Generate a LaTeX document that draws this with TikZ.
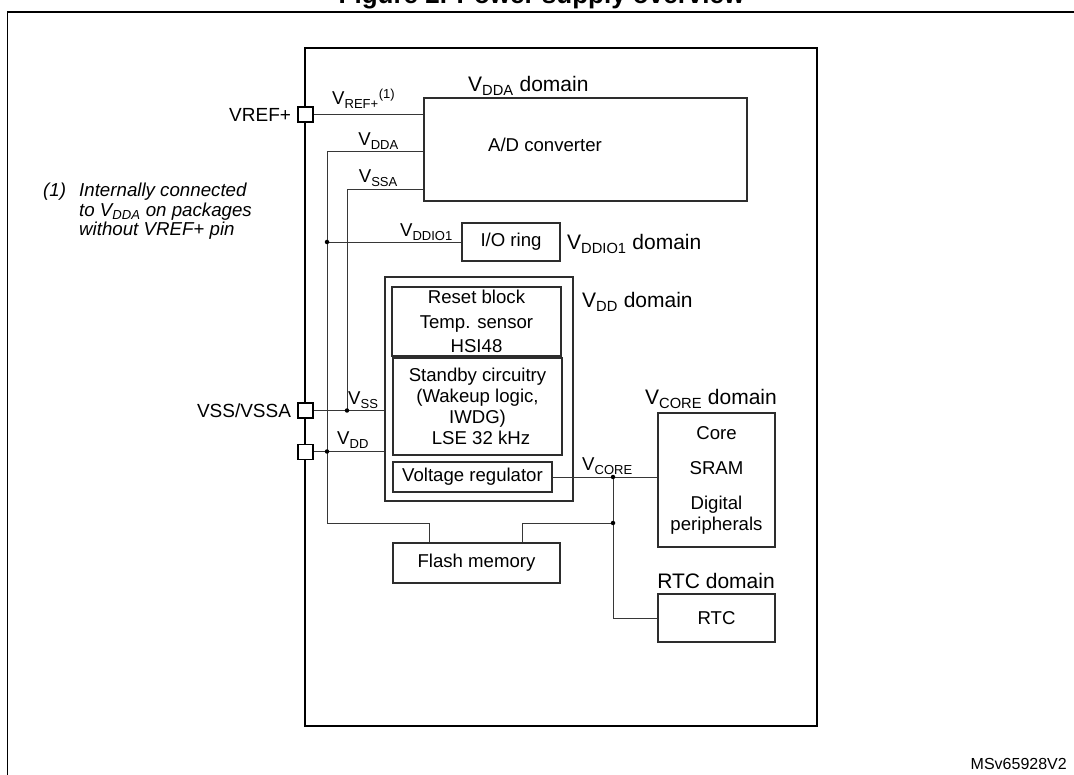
\documentclass[tikz,border=0pt]{standalone}
\usepackage{fontspec}
\setmainfont{Liberation Sans}
\usetikzlibrary{positioning, calc}
\definecolor{ps-line}{RGB}{45,45,45}
\definecolor{ps-wire}{RGB}{55,55,55}
\newcommand{\psbody}{\fontsize{18.6}{21}\selectfont}
\newcommand{\psdom}{\fontsize{21}{24}\selectfont}
\newcommand{\Vsub}[1]{V\textsubscript{#1}}
\tikzset{
  ps@box/.style={
    draw=ps-line, line width=1.1pt, inner sep=0pt,
    align=center, font=\psbody
  },
  ps@chip/.style={draw=black, line width=1.7pt, inner sep=0pt},
  ps@pin/.style={draw=black, line width=1.6pt, fill=white,
    minimum size=15pt, inner sep=0pt},
  ps@wire/.style={ps-wire, line width=0.9pt},
  ps@dot/.style={circle, fill=black, inner sep=0pt, minimum size=4.5pt},
  ps@lbl/.style={font=\psbody, inner sep=0pt},
  ps@dom/.style={font=\psdom, inner sep=0pt},
  ps@note/.style={font=\fontsize{18.7}{19.5}\selectfont\itshape, inner sep=0pt},
}

\begin{document}
\begin{tikzpicture}[x=1pt, y=-1pt]
  \useasboundingbox (0,0) rectangle (1074,775);
  % caption line, cut by the page edge
  \node[font=\fontsize{26}{30}\selectfont\bfseries, inner sep=0pt, anchor=base]
    (title) at (541.5,4) {Figure 2. Power supply overview};
  \draw[line width=1.9pt] (7.5,800) -- (7.5,12) -- (1100,12);

  % device outline
  \node[ps@chip, minimum width=512pt, minimum height=678pt] (chip) at (561,387) {};

  % blocks
  \node[ps@box, minimum width=323pt, minimum height=103pt] (adc) at (585.5,149.5) {};
  \node[ps@lbl] (adctxt) at (545,145) {A/D converter};
  \node[ps@box, minimum width=98pt, minimum height=38pt] (io) at (511,242) {I/O ring};
  \node[ps@box, minimum width=188pt, minimum height=224pt] (vdddom) at (479,389) {};
  \node[ps@box, minimum width=169pt, minimum height=69pt,
        font=\fontsize{18.6}{24.5}\selectfont] (rst) at (476.5,321.5)
        {Reset block\\Temp. sensor\\HSI48};
  \node[ps@box, minimum width=169pt, minimum height=97pt] (stby) at (477.5,406.5)
        {Standby circuitry\\(Wakeup logic,\\IWDG)\\\hspace*{7pt}LSE 32 kHz};
  \node[ps@box, minimum width=159pt, minimum height=30pt] (vreg) at (472.5,477) {Voltage regulator};
  \node[ps@box, minimum width=167pt, minimum height=40pt] (flash) at (476.5,563) {Flash memory};
  \node[ps@box, minimum width=117pt, minimum height=134pt] (core) at (716.5,480)
        {Core\\[14pt]SRAM\\[14pt]Digital\\peripherals};
  \node[ps@box, minimum width=117pt, minimum height=48pt] (rtc) at (716.5,618) {RTC};

  % supply rails
  \coordinate (ddaX) at (327,151);
  \coordinate (ssaX) at (347,189);
  \coordinate (flashL) at (429,523);
  \coordinate (flashR) at (522,523);
  \coordinate (coreX) at (613,477);

  \draw[ps@wire] (305,114.5) -- (adc.west |- 0,114.5);
  \draw[ps@wire] (ddaX -| adc.west) -- (ddaX) |- (flashL) -- (flashL |- flash.north);
  \draw[ps@wire] (ssaX -| adc.west) -- (ssaX) -- (ssaX |- 0,410.5);
  \draw[ps@wire] (305,410.5) -- (vdddom.west |- 0,410.5);
  \draw[ps@wire] (305,451.5) -- (vdddom.west |- 0,451.5);
  \draw[ps@wire] (ddaX |- io.west) -- (io.west);
  \draw[ps@wire] (vreg.east) -- (vreg.east -| core.west);
  \draw[ps@wire] (coreX) |- (rtc.west);
  \draw[ps@wire] (flashR |- flash.north) -- (flashR) -- (flashR -| coreX);

  % pins on the device edge
  \node[ps@pin] (vrefp) at (305.5,114.5) {};
  \node[ps@pin] (vssp) at (305.5,410.5) {};
  \node[ps@pin] (vddp) at (305.5,452) {};
  \node[ps@lbl, font=\fontsize{19}{22}\selectfont, left=6pt of vrefp] (vreflbl) {VREF+};
  \node[ps@lbl, font=\fontsize{19}{22}\selectfont, left=6pt of vssp] (vsslbl) {VSS/VSSA};

  % junctions
  \node[ps@dot] (j1) at (ddaX |- io.west) {};
  \node[ps@dot] (j2) at (ssaX |- vssp) {};
  \node[ps@dot] (j3) at (ddaX |- 0,451.5) {};
  \node[ps@dot] (j4) at (coreX) {};
  \node[ps@dot] (j5) at (flashR -| coreX) {};

  % rail names
  \node[ps@lbl, anchor=base west] (lref) at (332,105) {\Vsub{REF+}\textsuperscript{(1)}};
  \node[ps@lbl, anchor=base east] (ldda) at (399,146) {\Vsub{DDA}};
  \node[ps@lbl, anchor=base east] (lssa) at (398,183) {\Vsub{SSA}};
  \node[ps@lbl, anchor=base east] (lddio) at (453,237) {\Vsub{DDIO1}};
  \node[ps@lbl, anchor=base west] (lss) at (348,405) {\Vsub{SS}};
  \node[ps@lbl, anchor=base west] (ldd) at (337,445) {\Vsub{DD}};
  \node[ps@lbl, anchor=base west] (lcore) at (582,471) {\Vsub{CORE}};

  % domain names
  \node[ps@dom, anchor=base west] (ddda) at (468,92) {\Vsub{DDA} domain};
  \node[ps@dom, anchor=base west] (dddio) at (567,250) {\Vsub{DDIO1} domain};
  \node[ps@dom, anchor=base west] (ddd) at (582,308) {\Vsub{DD} domain};
  \node[ps@dom, anchor=base] (dcore) at (711,405) {\Vsub{CORE} domain};
  \node[ps@dom, anchor=base] (drtc) at (716,588) {RTC domain};

  % footnote
  \node[ps@note, anchor=base west] (fnum) at (43,197) {(1)};
  \node[ps@note, anchor=north west, align=left] (ftxt) at (79,183)
    {Internally connected\\to V\textsubscript{DDA} on packages\\without VREF+ pin};

  \node[font=\fontsize{16}{18}\selectfont, inner sep=0pt, anchor=base east] (figid)
    at (1067,769) {MSv65928V2};
\end{tikzpicture}
\end{document}
